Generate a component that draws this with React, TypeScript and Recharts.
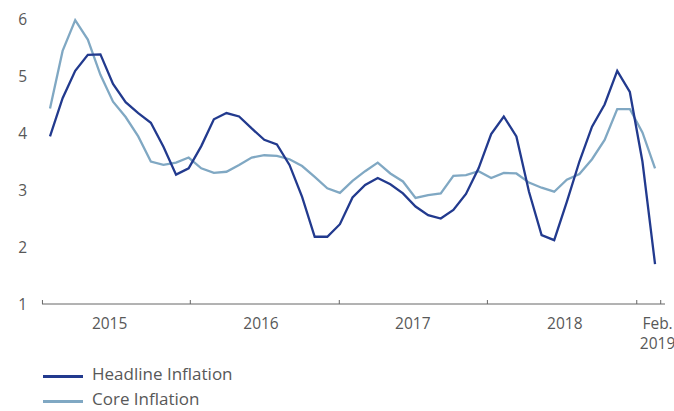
import { LineChart, Line, XAxis, YAxis } from 'recharts'

// Monthly inflation, Feb 2015 – Feb 2019 (%, y/y)
const HEADLINE = [
  3.94, 4.61, 5.09, 5.37, 5.38, 4.86, 4.54, 4.35, 4.18, 3.76, 3.27, 3.38,
  3.77, 4.24, 4.35, 4.29, 4.08, 3.88, 3.80, 3.44, 2.88, 2.18, 2.18, 2.40,
  2.87, 3.09, 3.21, 3.10, 2.94, 2.71, 2.56, 2.50, 2.65, 2.93, 3.38, 3.98,
  4.29, 3.94, 2.97, 2.21, 2.12, 2.79, 3.50, 4.11, 4.50, 5.09, 4.72, 3.50, 1.70,
]
const CORE = [
  4.43, 5.44, 5.98, 5.64, 5.02, 4.55, 4.28, 3.94, 3.50, 3.44, 3.48, 3.57,
  3.38, 3.30, 3.32, 3.44, 3.57, 3.61, 3.60, 3.54, 3.42, 3.23, 3.03, 2.95,
  3.16, 3.33, 3.48, 3.29, 3.15, 2.86, 2.91, 2.94, 3.25, 3.26, 3.33, 3.21,
  3.30, 3.29, 3.13, 3.04, 2.97, 3.18, 3.28, 3.54, 3.88, 4.42, 4.42, 4.01, 3.38,
]
const YEAR_LABELS = ['2015', '2016', '2017', '2018', 'Feb.\n2019']
const Y_TICKS = [1, 2, 3, 4, 5, 6]

const NAVY = '#223a8e'
const STEEL = '#80a8c3'
const TEXT = '#585858'
const AXIS = '#666'
const FONT = '"Open Sans", sans-serif'

// axis tick marks (year boundaries) and where the labels sit, in month-index units
const DOMAIN: [number, number] = [-0.635, 48.79]
const BOUNDARY_TICKS = [-0.6, 11.13, 22.95, 34.7, 46.55, 48.45]
const LABEL_TICKS = [4.73, 16.74, 28.78, 40.84, 48.2]
const ALL_TICKS = [...BOUNDARY_TICKS, ...LABEL_TICKS].sort((a, b) => a - b)

const data = HEADLINE.map((h, i) => ({ i, headline: h, core: CORE[i] }))

function XTick({ x, y, payload }: any) {
  const idx = LABEL_TICKS.indexOf(payload.value)
  if (idx < 0) {
    // small upward tick mark on the axis line
    return <line x1={x} x2={x} y1={y} y2={y - 4} stroke={AXIS} strokeWidth={1} />
  }
  const lines = YEAR_LABELS[idx].split('\n')
  return (
    <g>
      {lines.map((l, k) => (
        <text key={k} x={x} y={y + 24.5 + k * 20.5} textAnchor="middle" fill={TEXT} fontSize={15.5} fontFamily={FONT}>{l}</text>
      ))}
    </g>
  )
}

const LEGEND = [
  { label: 'Headline Inflation', color: NAVY, top: 364 },
  { label: 'Core Inflation', color: STEEL, top: 389 },
]

export default function App() {
  return (
    <div style={{ position: 'absolute', left: 0, top: 0, width: 674, height: 411, background: '#fff', fontFamily: FONT, overflow: 'hidden' }}>
      <LineChart width={674} height={411} data={data} margin={{ top: 19, right: 9, left: 0, bottom: 0 }}>
        <XAxis
          type="number" dataKey="i" domain={DOMAIN} allowDataOverflow
          ticks={ALL_TICKS} interval={0} tick={<XTick />} tickSize={0} tickMargin={0}
          axisLine={{ stroke: AXIS, strokeWidth: 1 }} tickLine={false} height={107}
        />
        <YAxis
          type="number" domain={[1, 6]} ticks={Y_TICKS} interval={0} width={42}
          axisLine={false} tickLine={false} tickSize={0} tickMargin={15}
          tick={{ fill: TEXT, fontSize: 15.5, fontFamily: FONT }}
        />
        <Line type="linear" dataKey="core" stroke={STEEL} strokeWidth={2.3} dot={false} isAnimationActive={false} />
        <Line type="linear" dataKey="headline" stroke={NAVY} strokeWidth={2.3} dot={false} isAnimationActive={false} />
      </LineChart>

      {LEGEND.map(l => (
        <div key={l.label} style={{ position: 'absolute', left: 0, top: l.top, height: 20, width: 300 }}>
          <div style={{ position: 'absolute', left: 43, top: 11, width: 40, height: 2.5, background: l.color }} />
          <span style={{ position: 'absolute', left: 92, top: 0, lineHeight: '20px', fontSize: 17, color: TEXT, whiteSpace: 'nowrap' }}>{l.label}</span>
        </div>
      ))}
    </div>
  )
}
